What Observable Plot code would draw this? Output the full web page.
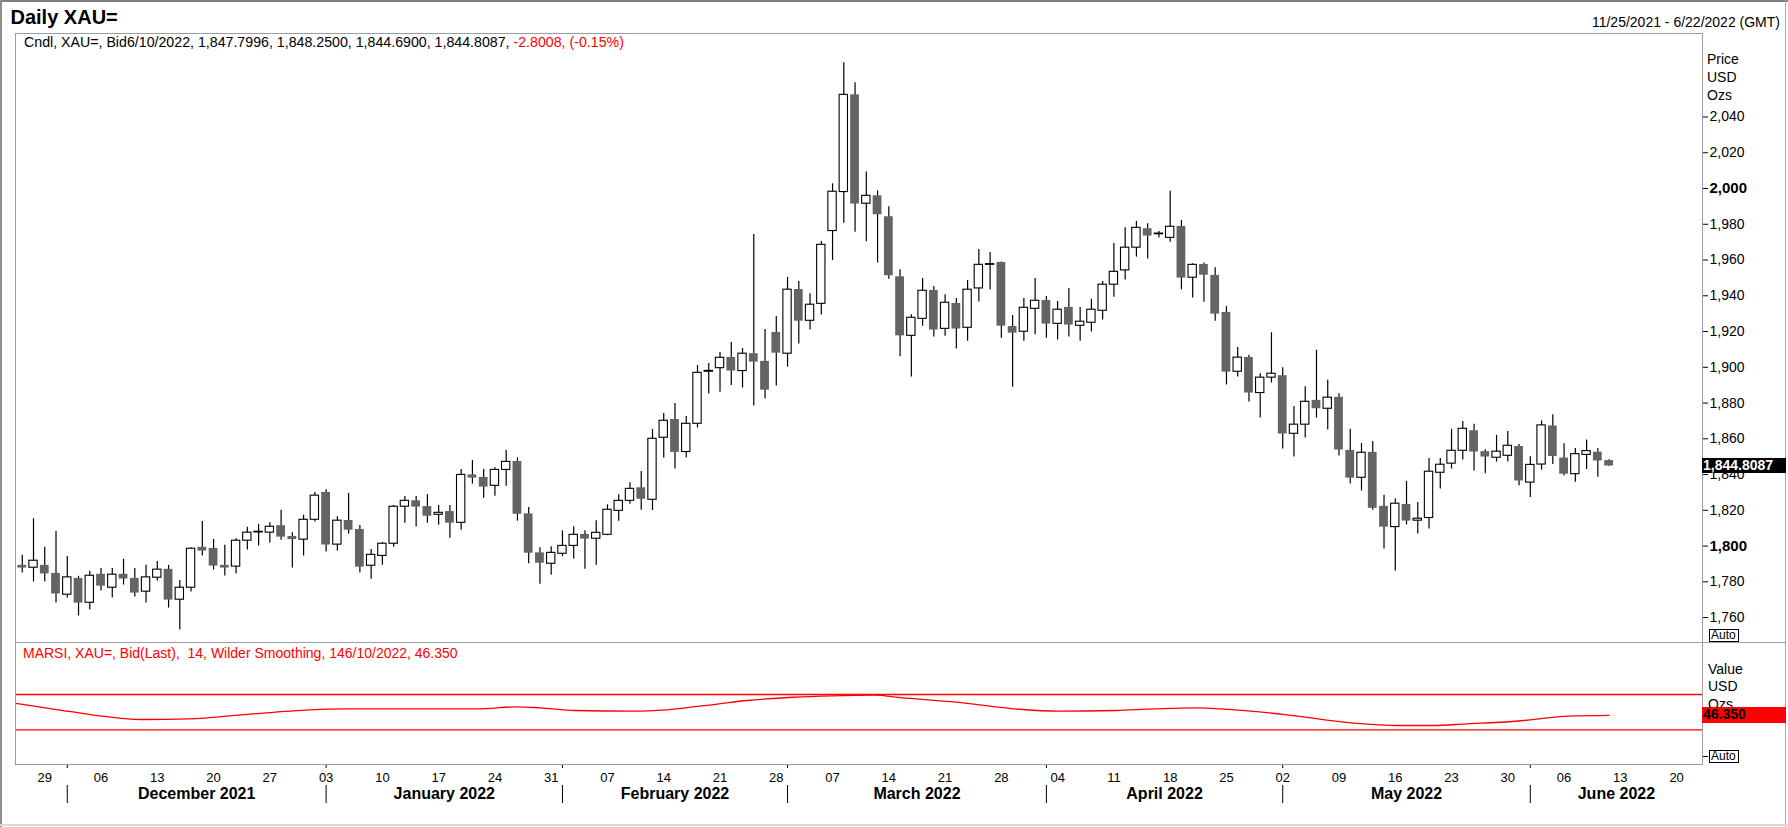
<!DOCTYPE html>
<html><head><meta charset="utf-8">
<script src="https://cdn.jsdelivr.net/npm/d3@7"></script>
<script src="https://cdn.jsdelivr.net/npm/@observablehq/plot@0.6"></script>
<style>
html,body{margin:0;padding:0;background:#fff;}
#root{position:relative;width:1788px;height:827px;overflow:hidden;font-family:"Liberation Sans",Arial,Helvetica,sans-serif;color:#000;background:#fff;}
.abs{position:absolute;white-space:pre;line-height:1;}
</style></head><body><div id="root"></div>
<script>
// ---------- DATA ----------
const open = [1789.2,1787.9,1789.2,1784.7,1772.8,1781.9,1768.3,1784.2,1776.7,1784.2,
1781.9,1774.5,1782.3,1787.0,1770.0,1776.7,1799.3,1798.7,1789.2,1788.5,
1803.0,1807.6,1807.5,1811.4,1805.4,1803.6,1814.7,1830.0,1800.8,1814.3,
1809.3,1789.0,1794.5,1801.3,1822.0,1825.3,1822.1,1817.5,1819.3,1813.0,
1839.8,1838.4,1833.7,1842.6,1847.3,1818.0,1796.2,1790.1,1795.7,1800.1,
1806.5,1804.1,1806.3,1819.7,1825.3,1832.6,1825.9,1860.6,1870.8,1852.6,
1868.4,1897.5,1899.5,1905.5,1897.9,1907.6,1903.3,1919.5,1907.6,1943.5,
1926.0,1935.5,1976.2,1998.0,2052.4,1991.5,1995.9,1984.2,1950.6,1917.6,
1927.1,1943.0,1921.5,1935.7,1922.1,1944.1,1957.3,1958.6,1922.8,1919.9,
1932.7,1937.4,1924.3,1933.5,1923.2,1924.9,1931.6,1946.2,1954.2,1966.9,
1977.5,1974.4,1972.4,1978.8,1950.1,1957.5,1951.4,1930.7,1897.5,1905.5,
1885.6,1894.2,1895.3,1862.8,1867.9,1881.5,1876.8,1883.2,1853.5,1838.2,
1852.4,1822.2,1810.6,1823.3,1814.2,1815.7,1841.0,1846.1,1853.3,1864.5,
1852.8,1849.4,1850.5,1855.7,1835.5,1845.6,1867.2,1849.2,1840.2,1851.0,
1852.5,1847.7996];
const high = [1794.8,1815.3,1799.3,1808.2,1794.2,1783.1,1785.9,1787.5,1787.5,1792.6,
1787.5,1789.2,1791.4,1789.2,1780.8,1799.0,1813.8,1803.7,1800.4,1804.1,
1810.5,1812.1,1813.1,1820.0,1807.5,1817.2,1830.0,1831.5,1816.4,1829.4,
1811.5,1798.1,1802.0,1822.7,1827.7,1827.7,1828.8,1822.7,1822.7,1842.8,
1847.9,1842.8,1843.8,1853.5,1849.4,1821.6,1799.0,1799.6,1808.5,1810.8,
1808.5,1814.1,1823.1,1828.7,1835.4,1841.7,1865.2,1874.2,1879.8,1872.5,
1901.0,1902.1,1908.3,1913.9,1910.5,1974.3,1921.2,1928.4,1950.3,1948.0,
1941.1,1970.4,2002.6,2070.3,2059.1,2009.3,1998.7,1989.8,1954.5,1929.4,
1949.7,1945.2,1940.6,1938.5,1948.6,1965.9,1964.2,1958.9,1929.0,1938.5,
1949.7,1939.6,1936.8,1944.1,1933.5,1938.0,1948.0,1969.3,1978.0,1981.6,
1980.3,1976.0,1998.4,1982.1,1957.9,1958.3,1955.7,1933.9,1911.1,1906.7,
1896.4,1919.3,1899.8,1878.1,1889.1,1909.5,1892.7,1885.2,1865.3,1857.4,
1858.5,1828.4,1826.5,1836.2,1824.4,1849.0,1849.0,1865.3,1869.7,1868.1,
1853.9,1861.9,1864.1,1856.8,1849.9,1870.0,1873.5,1857.2,1854.6,1859.3,
1854.6,1848.25];
const low = [1784.9,1779.9,1779.9,1768.1,1770.9,1760.9,1764.2,1774.8,1770.9,1778.2,
1771.5,1768.1,1780.4,1765.3,1753.0,1774.3,1794.4,1786.6,1783.2,1784.4,
1797.8,1800.0,1801.7,1803.2,1787.7,1794.4,1813.4,1796.7,1797.2,1806.7,
1784.9,1781.5,1789.3,1799.4,1812.8,1810.6,1812.8,1811.7,1804.4,1808.9,
1834.6,1826.8,1827.9,1833.5,1813.9,1790.1,1778.7,1783.7,1794.0,1792.7,
1787.1,1789.3,1805.8,1813.9,1823.4,1820.1,1819.9,1849.2,1843.1,1849.2,
1866.0,1885.0,1886.1,1889.8,1888.4,1878.3,1882.2,1889.5,1900.1,1913.0,
1920.8,1929.2,1959.8,1980.6,1975.6,1970.2,1958.3,1949.3,1905.9,1894.5,
1923.0,1916.9,1917.4,1910.2,1914.6,1936.5,1943.2,1916.3,1888.9,1914.6,
1918.2,1916.3,1915.2,1916.9,1914.6,1919.7,1926.4,1939.2,1948.8,1961.6,
1960.5,1972.3,1970.0,1943.3,1938.7,1936.4,1925.8,1890.1,1894.5,1880.6,
1871.6,1891.2,1854.3,1849.8,1860.4,1871.6,1864.9,1850.4,1834.7,1830.8,
1820.0,1798.3,1786.0,1811.8,1806.7,1809.5,1831.9,1843.1,1848.1,1842.0,
1840.5,1847.0,1847.0,1833.8,1827.2,1842.4,1845.6,1839.2,1835.7,1842.8,
1838.5,1844.69];
const close = [1787.7,1791.8,1784.4,1773.2,1782.5,1768.1,1783.4,1777.6,1784.0,1781.6,
1773.7,1782.5,1786.8,1769.8,1776.7,1798.5,1797.2,1788.8,1787.7,1803.0,
1807.5,1808.0,1810.8,1805.0,1803.6,1814.7,1828.2,1800.6,1814.2,1808.9,
1788.2,1795.1,1801.3,1822.0,1825.3,1821.8,1816.7,1818.6,1812.8,1839.8,
1838.0,1833.0,1842.6,1847.1,1817.8,1796.0,1790.4,1796.2,1800.1,1806.3,
1803.9,1807.4,1820.3,1825.3,1832.0,1826.2,1860.0,1870.1,1852.4,1868.4,
1896.9,1898.0,1905.3,1897.9,1907.6,1902.9,1887.2,1907.9,1943.4,1925.8,
1935.0,1968.5,1998.2,2052.4,1991.3,1995.9,1985.3,1951.2,1917.6,1927.7,
1942.8,1920.8,1936.1,1921.4,1943.4,1957.3,1957.7,1923.0,1919.1,1933.3,
1937.2,1924.2,1932.2,1923.6,1925.5,1932.2,1946.2,1953.4,1966.9,1978.0,
1973.4,1974.8,1978.6,1949.9,1957.3,1951.5,1929.7,1897.3,1905.4,1885.6,
1894.2,1896.4,1862.7,1867.9,1880.7,1876.8,1883.0,1853.7,1838.0,1852.2,
1821.1,1810.6,1823.7,1814.0,1815.3,1841.6,1845.5,1853.3,1865.6,1852.6,
1849.8,1852.8,1856.1,1836.4,1845.4,1867.5,1850.1,1840.2,1851.4,1853.1,
1847.6,1844.8087];

// RSI (Wilder, 14) read at trading-day positions
const rsiDay = [-0.6,3.2,6.2,10.6,14.9,19.5,25.6,28.7,40.4,44,46,49.1,54.2,57.3,61.9,64.4,68.5,72,75.7,78,83,88.1,92.1,97.1,100.7,104.2,107.2,112.2,118.3,122.3,125.3,128.4,132.4,137.4,141];
const rsiVal = [60.0,52.7,47.0,41.7,42.5,47.0,52.7,53.8,53.8,56.1,54.9,51.9,51.1,52.7,59.5,63.2,66.9,68.5,69.2,66.5,61.3,53.8,51.1,51.9,53.8,54.9,53.1,47.3,37.5,34.9,34.9,36.8,39.4,45.4,46.35];
const rsiLevels = [30, 70];

const priceTicks = [1760,1780,1800,1820,1840,1860,1880,1900,1920,1940,1960,1980,2000,2020,2040];
const majorPriceTicks = [1800, 2000];
const monthNames = ["December 2021","January 2022","February 2022","March 2022","April 2022","May 2022","June 2022"];
const lastClose = 1844.8087, lastRsi = 46.350;

// ---------- calendar (weekdays only) ----------
const days = d3.utcDays(new Date(Date.UTC(2021,10,25)), new Date(Date.UTC(2022,5,23)))
  .filter(d => d.getUTCDay() !== 0 && d.getUTCDay() !== 6);
const candles = open.map((o, i) => ({i, date: days[i], open: o, high: high[i], low: low[i], close: close[i]}));
const up = candles.filter(d => d.close >= d.open);
const down = candles.filter(d => d.close < d.open);
const rsi = rsiDay.map((x, k) => ({i: x, v: rsiVal[k]}));

const xDomain = [-0.6, 149.3];
const mondays = days.map((d, i) => d.getUTCDay() === 1 ? i : null).filter(v => v !== null);
const dayFmt = d3.utcFormat("%d");
const monthStarts = days.map((d, i) => (i > 0 && d.getUTCMonth() !== days[i-1].getUTCMonth()) ? i : null).filter(v => v !== null);
const monthMids = monthStarts.map((s, k) => (s + (k + 1 < monthStarts.length ? monthStarts[k+1] : xDomain[1])) / 2);
const monthByMid = new Map(monthMids.map((m, k) => [m, monthNames[k]]));

const FONT = '"Liberation Sans", Arial, Helvetica, sans-serif';
const fmt = d3.format(",");

// ---------- main price panel ----------
const main = Plot.plot({
  width: 1788, height: 610,
  marginLeft: 15, marginRight: 86, marginTop: 0, marginBottom: 0,
  x: {type: "linear", domain: xDomain, axis: null, label: null},
  y: {domain: [1745.5, 2086.7], axis: null, label: null},
  style: {fontFamily: FONT, background: "transparent", color: "#000", overflow: "visible"},
  marks: [
    Plot.ruleX(candles, {x: "i", y1: "low", y2: "high", stroke: "#000", strokeWidth: 1.2}),
    Plot.rect(down, {x1: d => d.i - 0.39, x2: d => d.i + 0.39, y1: "open", y2: "close", fill: "#646464"}),
    Plot.rect(up, {x1: d => d.i - 0.37, x2: d => d.i + 0.37, y1: "open", y2: "close", fill: "#fff", stroke: "#000", strokeWidth: 1.1}),
    Plot.axisY(priceTicks.filter(t => !majorPriceTicks.includes(t)), {anchor: "right", tickSize: 5, tickPadding: 2, tickFormat: fmt, fontSize: 14, label: null}),
    Plot.axisY(majorPriceTicks, {anchor: "right", tickSize: 5, tickPadding: 2, tickFormat: fmt, fontSize: 15, fontWeight: "bold", label: null})
  ]
});

// ---------- RSI panel + date axis ----------
const lower = Plot.plot({
  width: 1788, height: 185,
  marginLeft: 15, marginRight: 86, marginTop: 1, marginBottom: 63,
  x: {type: "linear", domain: xDomain, axis: null, label: null},
  y: {domain: [-9.3, 127.8], axis: null, label: null},
  style: {fontFamily: FONT, background: "transparent", color: "#000", overflow: "visible"},
  marks: [
    Plot.ruleY(rsiLevels, {stroke: "#ff0000", strokeWidth: 1.3}),
    Plot.line(rsi, {x: "i", y: "v", stroke: "#ff0000", strokeWidth: 1.3, curve: "monotone-x"}),
    Plot.axisX(mondays, {anchor: "bottom", tickSize: 0, tickPadding: 8, tickFormat: i => dayFmt(days[i]), fontSize: 13, label: null}),
    Plot.axisX(monthStarts, {anchor: "bottom", tickSize: 4, tickFormat: () => "", label: null}),
    Plot.axisX(monthStarts, {anchor: "bottom", tickSize: 18, dy: 21, tickFormat: () => "", label: null}),
    Plot.axisX(monthMids, {anchor: "bottom", tickSize: 0, tickPadding: 23.5, tickFormat: m => monthByMid.get(m), fontSize: 16, fontWeight: "bold", label: null})
  ]
});

// ---------- layout ----------
const root = document.getElementById("root");
function el(css, html) {
  const d = document.createElement("div");
  d.className = "abs";
  d.style.cssText = css;
  if (html != null) d.innerHTML = html;
  root.appendChild(d);
  return d;
}
const BORDER = "#9c9ca6";
el("left:0;top:33px;width:1788px;height:610px;").appendChild(main);
el("left:0;top:642px;width:1788px;height:185px;").appendChild(lower);

// frame lines
el("left:0;top:0;width:1788px;height:2px;background:#808080;");
el("left:0;top:0;width:2px;height:827px;background:#8e8e8e;");
el("left:1785px;top:0;width:1px;height:827px;background:#a8a8a8;");
el("left:0;top:824px;width:1788px;height:2px;background:#dcdcdc;");
el(`left:15px;top:33px;width:1px;height:731px;background:${BORDER};`);
el(`left:15px;top:33px;width:1687px;height:1px;background:${BORDER};`);
el(`left:1702px;top:33px;width:1px;height:731px;background:${BORDER};`);
el(`left:15px;top:642px;width:1771px;height:1px;background:${BORDER};`);
el(`left:15px;top:764px;width:1688px;height:1px;background:${BORDER};`);

// texts
el("left:10.5px;top:6.5px;font-size:20px;font-weight:bold;", "Daily XAU=");
el("right:8px;top:14.5px;font-size:14px;", "11/25/2021 - 6/22/2022 (GMT)");
el("left:24px;top:35px;font-size:14.2px;", 'Cndl, XAU=, Bid6/10/2022, 1,847.7996, 1,848.2500, 1,844.6900, 1,844.8087, <span style="color:#ff0000">-2.8008, (-0.15%)</span>');
el("left:1707px;top:51.5px;font-size:14px;", "Price");
el("left:1707px;top:70px;font-size:14px;", "USD");
el("left:1707px;top:88.2px;font-size:14px;", "Ozs");
el("left:23px;top:645.5px;font-size:14px;color:#ff0000;", "MARSI, XAU=, Bid(Last),  14, Wilder Smoothing, 146/10/2022, 46.350");
el("left:1708px;top:661.5px;font-size:14px;", "Value");
el("left:1708px;top:679.2px;font-size:14px;", "USD");
el("left:1708px;top:697px;font-size:14px;", "Ozs");

// value markers positioned through the plots' own scales
const yMain = main.scale("y").apply(lastClose) + 33;
el(`left:1702px;top:${yMain - 7.7}px;width:84px;height:15.4px;background:#000;color:#fff;font-size:14px;font-weight:bold;line-height:15.4px;padding-left:1px;box-sizing:border-box;`, fmt(lastClose));
const yRsi = lower.scale("y").apply(lastRsi) + 642;
el(`left:1702px;top:${yRsi - 7.7}px;width:84px;height:15.4px;background:#ff0000;color:#000;font-size:14px;font-weight:bold;line-height:15.4px;padding-left:1px;box-sizing:border-box;`, lastRsi.toFixed(3));

// Auto boxes
el("left:1709px;top:628.5px;width:30px;height:13px;border:1px solid #000;box-sizing:border-box;font-size:12px;line-height:11px;padding-left:1px;background:#fff;", "Auto");
el("left:1709px;top:749.5px;width:30px;height:13.5px;border:1px solid #000;box-sizing:border-box;font-size:12px;line-height:11.5px;padding-left:1px;background:#fff;", "Auto");
el("left:1703px;top:756px;width:5px;height:1px;background:#000;");
</script></body></html>
